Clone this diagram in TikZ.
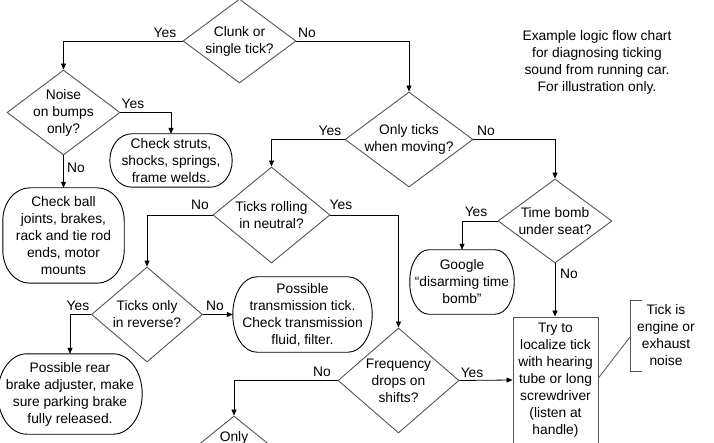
\documentclass[tikz,border=0pt]{standalone}
\usepackage{fontspec}
\setmainfont{Liberation Sans}
\usetikzlibrary{shapes.geometric,arrows.meta,calc}
\definecolor{outl}{HTML}{555555}
\tikzset{
  dia/.style={draw=outl, line width=0.9pt, shape=diamond, inner sep=0pt, aspect=1},
  rbox/.style={inner sep=0pt, align=center},
  eline/.style={draw=black, line width=0.9pt},
  txt/.style={align=center, inner sep=0pt, font=\fontsize{13.8}{17}\selectfont},
  lbl/.style={inner sep=0pt, font=\fontsize{13.8}{17}\selectfont},
  arr/.style={draw=black, line width=0.8pt, -{Triangle[length=6pt,width=5pt]}},
  every node/.append style={font=\fontsize{13.8}{17}\selectfont}
}
% outline with elliptical corners around node #1, radii #2 (x) and #3 (y) in pt
\newcommand\eboxdraw[3]{%
  \draw[eline] let \p1=(#1.north west), \p2=(#1.south east) in
    (\x2-#2pt,\y1) arc[start angle=90, end angle=0, x radius=#2pt, y radius=#3pt]
    -- (\x2,\y2+#3pt) arc[start angle=0, end angle=-90, x radius=#2pt, y radius=#3pt]
    -- (\x1+#2pt,\y2) arc[start angle=270, end angle=180, x radius=#2pt, y radius=#3pt]
    -- (\x1,\y1-#3pt) arc[start angle=180, end angle=90, x radius=#2pt, y radius=#3pt]
    -- cycle;}
\begin{document}
\begin{tikzpicture}[x=1pt,y=-1pt]
\useasboundingbox[fill=white] (0,0) rectangle (714,443);

% decision diamonds
\node[dia, minimum width=113pt, minimum height=84pt] (d1) at (239.5,41) {};
\node[txt] (d1t) at (d1) {Clunk or\\single tick?};
\node[dia, minimum width=113pt, minimum height=85pt] (d2) at (63.5,112.5) {};
\node[txt] (d2t) at (d2) {Noise\\on bumps\\only?};
\node[dia, minimum width=128pt, minimum height=95pt] (d3) at (409,139.5) {};
\node[txt] (d3t) at (d3) {Only ticks\\when moving?};
\node[dia, minimum width=117pt, minimum height=96pt] (d4) at (271.5,215) {};
\node[txt] (d4t) at (d4) {Ticks rolling\\in neutral?};
\node[dia, minimum width=114pt, minimum height=84pt] (d5) at (555,221) {};
\node[txt] (d5t) at (d5) {Time bomb\\under seat?};
\node[dia, minimum width=111pt, minimum height=95pt] (d6) at (147,314.5) {};
\node[txt] (d6t) at (d6) {Ticks only\\in reverse?};
\node[dia, minimum width=121pt, minimum height=105pt] (d7) at (398.5,380.5) {};
\node[txt] (d7t) at (d7) {Frequency\\drops on\\shifts?};
\node[dia, minimum width=124pt, minimum height=100pt] (d8) at (234,466) {};
\node[txt] (d8t) at (234,438) {Only};

% outcome boxes
\node[rbox, minimum width=122pt, minimum height=53pt] (b1) at (171,160.5) {Check struts,\\shocks, springs,\\frame welds.};
\eboxdraw{b1}{22}{26.5}
\node[rbox, minimum width=121pt, minimum height=95pt] (b2) at (63.5,235.5) {Check ball\\joints, brakes,\\rack and tie rod\\ends, motor\\mounts};
\eboxdraw{b2}{27}{33}
\node[rbox, minimum width=144pt, minimum height=80pt] (b3) at (70,394) {Possible rear\\brake adjuster, make\\sure parking brake\\fully released.};
\eboxdraw{b3}{29}{40}
\node[rbox, minimum width=139pt, minimum height=75pt] (b4) at (302.5,314.5) {Possible\\transmission tick.\\Check transmission\\fluid, filter.};
\eboxdraw{b4}{24}{37.5}
\node[rbox, minimum width=104pt, minimum height=64pt] (b5) at (462,282) {Google\\“disarming time\\bomb”};
\eboxdraw{b5}{19}{31}
\node[draw=outl, line width=0.9pt, inner sep=0pt, align=center, minimum width=85pt, minimum height=126pt] (b6) at (555.5,380) {Try to\\localize tick\\with hearing\\tube or long\\screwdriver\\(listen at\\handle)};

% note
\node[txt] (note) at (597,62.5) {Example logic flow chart\\for diagnosing ticking\\sound from running car.\\For illustration only.};

% annotation
\coordinate (brt) at (642,300);
\coordinate (brb) at (642,371);
\coordinate (brm) at (630,337);
\draw[outl, line width=0.9pt] (brt) -- (630,300) -- (630,371) -- (brb);
\draw[outl, line width=0.8pt] (b6.east |- 0,378) -- (brm);
\node[txt] (ann) at (666,335) {Tick is\\engine or\\exhaust\\noise};

% connectors
\draw[arr] (d1.west) -| (d2.north);
\node[lbl] (l1) at (165,33) {Yes};
\draw[arr] (d1.east) -| (d3.north);
\node[lbl] (l2) at (307,33) {No};
\draw[arr] (d2.east) -| (b1.north);
\node[lbl] (l3) at (133,104) {Yes};
\draw[arr] (d2.south) -- (b2.north);
\node[lbl] (l4) at (76,168) {No};
\draw[arr] (d3.west) -| (d4.north);
\node[lbl] (l5) at (330,131) {Yes};
\draw[arr] (d3.east) -| (d5.north);
\node[lbl] (l6) at (486,131) {No};
\draw[arr] (d4.west) -| (d6.north);
\node[lbl] (l7) at (200,205) {No};
\draw[arr] (d4.east) -| (d7.north);
\node[lbl] (l8) at (341,205) {Yes};
\draw[arr] (d5.west) -| (b5.north);
\node[lbl] (l9) at (476,212) {Yes};
\draw[arr] (d5.south) -- (d5.south |- b6.north);
\node[lbl] (l10) at (569,274) {No};
\draw[arr] (d6.west) -| (b3.north);
\node[lbl] (l11) at (78,306) {Yes};
\draw[arr] (d6.east) -- (b4.west);
\node[lbl] (l12) at (215,306) {No};
\draw[arr] (d7.west) -| (d8.north);
\node[lbl] (l13) at (322,372) {No};
\draw[arr] (d7.east) -- (b6.west);
\node[lbl] (l14) at (472,373) {Yes};
\end{tikzpicture}
\end{document}
